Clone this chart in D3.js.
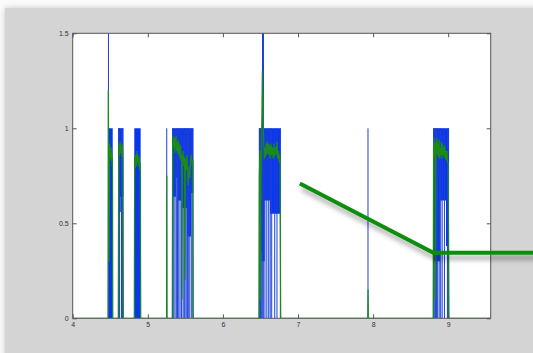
<!DOCTYPE html>
<html>
<head>
<meta charset="utf-8">
<script src="https://cdn.jsdelivr.net/npm/d3@7"></script>
<style>
  body { margin: 0; background: #ffffff; }
  svg { display: block; }
  .tick text { font-family: "Liberation Sans", Arial, sans-serif; font-size: 7px; fill: #333; }
</style>
</head>
<body>
<svg id="chart" width="533" height="353"></svg>
<script>
// axis ticks
const xTicks = [4, 5, 6, 7, 8, 9];
const yTicks = [0, 0.5, 1, 1.5];

// blue signal envelope (step after): x, top of burst, bottom of solid part
const blueX  = [4.0, 4.474, 4.479, 4.533, 4.607, 4.640, 4.674, 4.820, 4.905, 5.326, 5.375, 5.402, 5.442, 5.482, 5.522, 5.575, 5.606, 6.481, 6.515, 6.521, 6.545, 6.557, 6.627, 6.770, 8.802, 8.891, 8.971, 9.011];
const blueHi = [0,   1.5,   1.0,   0,     1.0,   1.0,   0,     1.0,   0,     1.0,   1.0,   1.0,   1.0,   1.0,   1.0,   1.0,   0,     1.0,   1.0,   1.5,   1.0,   1.0,   1.0,   0,     1.0,   1.0,   1.0,   0];
const blueLo = [0,   0,     0,     0,     0.56,  0.64,  0,     0,     0,     0.64,  0.74,  0.62,  0.58,  0.58,  0.43,  0.66,  0,     0.35,  0.30,  0.30,  0.30,  0.62,  0.55,  0,     0.30,  0.62,  0.38,  0];

// single blue spikes reaching down to zero: [x, top]
const blueStrokes = [
  [4.476, 1.5], [4.610, 1], [4.618, 1], [4.625, 1], [4.650, 1], [4.660, 1], [4.668, 1],
  [5.252, 1], [5.330, 1], [5.345, 1], [5.362, 1], [5.380, 1], [5.395, 1], [5.412, 1], [5.430, 1],
  [5.450, 1], [5.470, 1], [5.485, 1], [5.495, 1], [5.512, 1], [5.530, 1], [5.545, 1], [5.560, 1],
  [5.585, 1], [5.600, 1],
  [6.485, 1], [6.492, 1], [6.500, 1], [6.512, 1], [6.530, 1.5], [6.538, 1.5], [6.560, 1], [6.585, 1],
  [6.610, 1], [6.630, 1], [6.650, 1], [6.690, 1], [6.720, 1], [6.765, 1],
  [7.932, 1],
  [8.805, 1], [8.815, 1], [8.830, 1], [8.845, 1], [8.860, 1], [8.880, 1], [8.900, 1], [8.920, 1],
  [8.950, 1], [8.990, 1], [9.005, 1]
];

// green (smoothed) signal: [x, y]
const greenPts = [
  [4.0, 0], [4.470, 0], [4.474, 1.2], [4.477, 0.95], [4.480, 0.9], [4.485, 0.3], [4.490, 0.92], [4.495, 0.86],
  [4.500, 0.9], [4.505, 0.84], [4.510, 0.9], [4.515, 0.83], [4.520, 0.87], [4.525, 0.8], [4.530, 0.84], [4.534, 0],
  [4.607, 0], [4.612, 0.85], [4.618, 0.92], [4.625, 0.86], [4.632, 0.93], [4.640, 0.87], [4.648, 0.91],
  [4.655, 0.85], [4.662, 0.92], [4.668, 0.84], [4.675, 0],
  [4.820, 0], [4.825, 0.85], [4.832, 0.79], [4.840, 0.86], [4.848, 0.8], [4.855, 0.88], [4.862, 0.82],
  [4.870, 0.86], [4.878, 0.8], [4.885, 0.85], [4.892, 0.78], [4.900, 0.82], [4.906, 0],
  [5.250, 0], [5.253, 0.75], [5.256, 0],
  [5.326, 0], [5.330, 0.9], [5.337, 0.96], [5.345, 0.9], [5.352, 0.95], [5.360, 0.87], [5.367, 0.94],
  [5.375, 0.96], [5.382, 0.88], [5.390, 0.93], [5.397, 0.87], [5.405, 0.94], [5.412, 0.86], [5.420, 0.92],
  [5.427, 0.84], [5.435, 0.91], [5.442, 0.83], [5.450, 0.86], [5.455, 0.1], [5.460, 0.82], [5.470, 0.88],
  [5.480, 0.8], [5.490, 0.85], [5.495, 0.2], [5.500, 0.84], [5.510, 0.78], [5.520, 0.86], [5.530, 0.76],
  [5.540, 0.7], [5.550, 0.8], [5.560, 0.74], [5.570, 0.84], [5.580, 0.86], [5.590, 0.8], [5.600, 0.83], [5.606, 0],
  [6.480, 0], [6.485, 0.75], [6.490, 0.82], [6.495, 0.88], [6.500, 0.1], [6.505, 0.6], [6.510, 0.82],
  [6.515, 0.95], [6.520, 1.1], [6.525, 1.3], [6.530, 1.2], [6.535, 1.15], [6.540, 1.0], [6.545, 0.9],
  [6.552, 0.84], [6.560, 0.9], [6.567, 0.85], [6.575, 0.92], [6.582, 0.86], [6.590, 0.93], [6.597, 0.87],
  [6.605, 0.92], [6.612, 0.86], [6.620, 0.91], [6.630, 0.84], [6.640, 0.92], [6.650, 0.86], [6.660, 0.9],
  [6.670, 0.84], [6.680, 0.92], [6.690, 0.85], [6.700, 0.9], [6.710, 0.86], [6.720, 0.93], [6.730, 0.84],
  [6.740, 0.88], [6.750, 0.82], [6.760, 0.86], [6.770, 0],
  [7.930, 0], [7.933, 0.15], [7.936, 0],
  [8.800, 0], [8.805, 0.9], [8.812, 0.95], [8.820, 0.85], [8.826, 0.92], [8.830, 0.1], [8.835, 0.93],
  [8.842, 0.87], [8.850, 0.95], [8.857, 0.86], [8.865, 0.92], [8.872, 0.85], [8.880, 0.94], [8.887, 0.84],
  [8.895, 0.9], [8.902, 0.86], [8.910, 0.93], [8.917, 0.84], [8.925, 0.92], [8.932, 0.86], [8.940, 0.9],
  [8.947, 0.85], [8.955, 0.91], [8.962, 0.84], [8.970, 0.88], [8.977, 0.83], [8.985, 0.88], [8.992, 0.82],
  [9.000, 0.82], [9.010, 0], [9.570, 0]
];

// thick annotation line, in data units
const noteX = [7.025, 8.802, 10.2];
const noteY = [0.71, 0.345, 0.345];

const svg = d3.select('#chart');
const W = 533, H = 353;
const margin = {left: 72.7, top: 33.3, right: 490.7, bottom: 318.3};

const defs = svg.append('defs');
const panelShadow = defs.append('filter').attr('id', 'panelShadow')
  .attr('x', '-5%').attr('y', '-5%').attr('width', '110%').attr('height', '110%');
panelShadow.append('feDropShadow').attr('dx', 0).attr('dy', 0)
  .attr('stdDeviation', 3).attr('flood-color', '#888').attr('flood-opacity', 0.45);
const noteShadow = defs.append('filter').attr('id', 'noteShadow')
  .attr('x', '-10%').attr('y', '-30%').attr('width', '120%').attr('height', '160%');
noteShadow.append('feDropShadow').attr('dx', 2).attr('dy', 5)
  .attr('stdDeviation', 2.5).attr('flood-color', '#000').attr('flood-opacity', 0.35);
defs.append('clipPath').attr('id', 'plotClip').append('rect')
  .attr('x', margin.left).attr('y', margin.top)
  .attr('width', margin.right - margin.left).attr('height', margin.bottom - margin.top);

// figure background
svg.append('rect').attr('width', W).attr('height', H).attr('fill', '#fbfbfb');
svg.append('rect').attr('x', 5).attr('y', 8).attr('width', W + 10).attr('height', H + 10)
  .attr('fill', '#d4d4d4').attr('filter', 'url(#panelShadow)');

const x = d3.scaleLinear().domain([4, 9.566]).range([margin.left, margin.right]);
const y = d3.scaleLinear().domain([0, 1.5]).range([margin.bottom, margin.top]);

// axes area
svg.append('rect').attr('x', margin.left).attr('y', margin.top)
  .attr('width', margin.right - margin.left).attr('height', margin.bottom - margin.top)
  .attr('fill', '#fff');

const plot = svg.append('g').attr('clip-path', 'url(#plotClip)');

const blueArea = d3.area()
  .x(i => x(blueX[i]))
  .y0(i => y(blueLo[i]))
  .y1(i => y(blueHi[i]))
  .curve(d3.curveStepAfter);
plot.append('path').datum(d3.range(blueX.length))
  .attr('d', blueArea)
  .attr('fill', '#0a35f0');

plot.selectAll('.bstroke')
  .data(blueStrokes)
  .enter().append('line')
    .attr('class', 'bstroke')
    .attr('x1', d => x(d[0])).attr('x2', d => x(d[0]))
    .attr('y1', y(0)).attr('y2', d => y(d[1]))
    .attr('stroke', '#1a40d8').attr('stroke-width', 1);

const greenLine = d3.line()
  .x(d => x(d[0]))
  .y(d => y(d[1]));
plot.append('path').datum(greenPts)
  .attr('d', greenLine)
  .attr('fill', 'none')
  .attr('stroke', '#1a8a1a')
  .attr('stroke-width', 1.2);

// box
svg.append('rect').attr('x', margin.left).attr('y', margin.top)
  .attr('width', margin.right - margin.left).attr('height', margin.bottom - margin.top)
  .attr('fill', 'none').attr('stroke', '#555').attr('stroke-width', 1);

// axes with inward ticks
const fmt = d => String(d);
svg.append('g').attr('transform', `translate(0,${margin.bottom})`)
  .call(d3.axisBottom(x).tickValues(xTicks).tickFormat(fmt).tickSizeInner(-4).tickSizeOuter(0).tickPadding(4))
  .call(g => g.select('.domain').remove())
  .call(g => g.selectAll('line').attr('stroke', '#555'));
svg.append('g').attr('transform', `translate(0,${margin.top})`)
  .call(d3.axisTop(x).tickValues(xTicks).tickFormat('').tickSizeInner(-4).tickSizeOuter(0))
  .call(g => g.select('.domain').remove())
  .call(g => g.selectAll('line').attr('stroke', '#555'));
svg.append('g').attr('transform', `translate(${margin.left},0)`)
  .call(d3.axisLeft(y).tickValues(yTicks).tickFormat(fmt).tickSizeInner(-4).tickSizeOuter(0).tickPadding(4))
  .call(g => g.select('.domain').remove())
  .call(g => g.selectAll('line').attr('stroke', '#555'));
svg.append('g').attr('transform', `translate(${margin.right},0)`)
  .call(d3.axisRight(y).tickValues(yTicks).tickFormat('').tickSizeInner(-4).tickSizeOuter(0))
  .call(g => g.select('.domain').remove())
  .call(g => g.selectAll('line').attr('stroke', '#555'));

// annotation line
const noteLine = d3.line().x(i => x(noteX[i])).y(i => y(noteY[i]));
svg.append('path').datum(d3.range(noteX.length))
  .attr('d', noteLine)
  .attr('fill', 'none')
  .attr('stroke', '#0a8c0a')
  .attr('stroke-width', 4)
  .attr('stroke-linejoin', 'miter')
  .attr('filter', 'url(#noteShadow)');
</script>
</body>
</html>
